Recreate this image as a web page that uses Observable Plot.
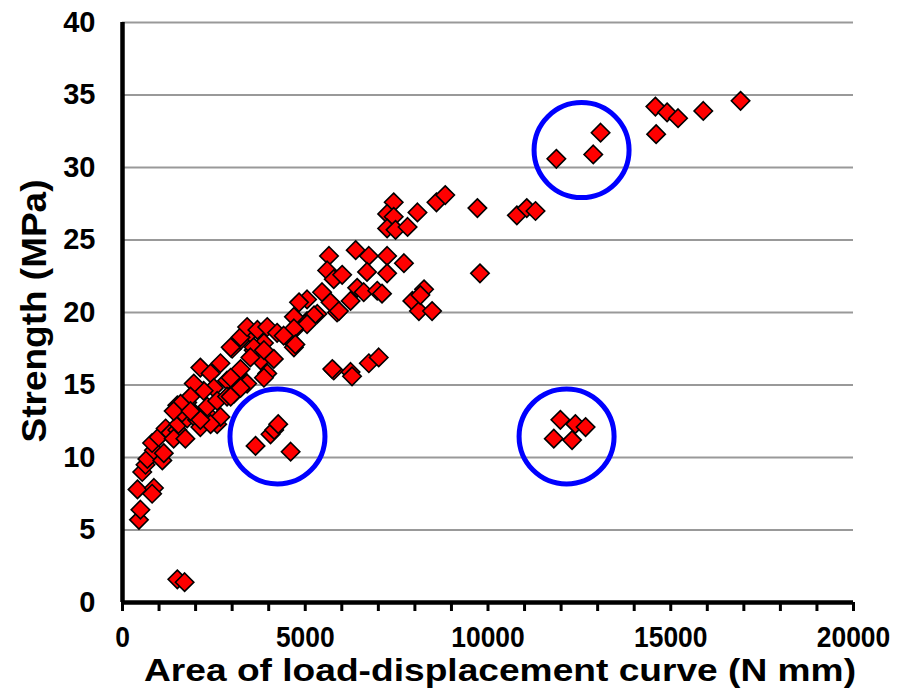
<!DOCTYPE html>
<html>
<head>
<meta charset="utf-8">
<script src="https://cdn.jsdelivr.net/npm/d3@7"></script>
<script src="https://cdn.jsdelivr.net/npm/@observablehq/plot@0.6"></script>
<style>
  html, body { margin: 0; padding: 0; background: #fff; }
  #chart svg { display: block; }
</style>
</head>
<body>
<div id="chart"></div>
<script>
// Area of load-displacement curve (N mm)
const area = [
  1500,1700,
  450,490,410,860,810,540,630,680,860,810,1090,1130,990,1180,1310,1500,1400,1720,1530,1770,1630,1500,2040,1910,2320,2590,2130,1770,
  2130,2410,2680,3000,3230,3500,3140,3410,2860,2500,2220,1950,1860,1590,1400,2320,2590,2860,3050,2680,2410,2130,1860,3780,3590,3870,3960,
  2960,3230,3410,3690,3960,4230,4510,4780,5050,5330,5870,3590,3870,4140,3500,3230,2960,3870,4690,5780,2960,3230,
  5650,6380,6740,7240,7700,5600,5780,6010,6690,7240,6420,6240,6600,6970,7100,5460,5690,5920,5050,4830,4690,5240,5050,4690,4410,4730,
  7930,8110,8250,8150,8470,5740,6240,6280,6740,7010,
  7420,7240,7420,7240,7470,7800,8070,8590,8830,9710,9780,10790,11060,11300,
  11870,12880,13080,
  14580,14900,15200,14600,15890,16910,
  3640,4050,4150,4260,4600,
  11980,12390,12670,11800,12300
];
// Strength (MPa)
const strength = [
  1.6,1.4,
  5.7,6.4,7.8,7.9,7.5,9.0,9.5,9.9,10.5,11.0,9.8,10.3,11.4,12.0,11.7,11.9,11.3,11.3,12.3,12.7,13.1,13.6,12.6,13.2,13.0,12.3,12.1,13.8,
  16.2,15.8,16.5,17.5,18.1,18.6,15.8,15.1,15.3,14.8,14.6,15.1,14.2,13.7,13.2,13.5,13.9,14.2,14.4,12.8,12.3,12.6,13.2,16.7,17.4,17.9,15.8,
  17.6,18.3,19.0,18.8,19.0,18.6,18.3,19.0,19.4,19.9,20.0,17.6,17.4,16.8,16.9,16.1,15.5,15.5,17.6,16.0,14.2,14.8,
  23.9,24.3,23.9,23.9,23.4,22.9,22.3,22.6,22.8,22.7,21.7,20.8,21.4,21.5,21.3,21.4,20.7,20.1,20.9,20.7,19.7,19.8,19.2,18.9,18.4,17.8,
  20.8,20.1,21.6,21.2,20.1,16.1,15.9,15.6,16.5,16.9,
  27.6,26.8,26.6,25.8,25.7,25.9,26.9,27.6,28.1,27.2,22.7,26.7,27.2,27.0,
  30.6,30.9,32.4,
  34.2,33.8,33.4,32.3,33.9,34.6,
  10.8,11.6,11.9,12.3,10.4,
  12.6,12.3,12.1,11.3,11.2
];
// highlighted groups (circle centres)
const circleX = [4240, 12150, 12560];
const circleY = [11.45, 11.45, 31.2];

const xTicks = [0, 5000, 10000, 15000, 20000];
const xMinorTicks = d3.range(0, 20001, 1000);
const yTicks = [0, 5, 10, 15, 20, 25, 30, 35, 40];

const points = area.map((a, i) => ({a, s: strength[i]}));
const circles = circleX.map((x, i) => ({x, y: circleY[i]}));

const plot = Plot.plot({
  width: 903,
  height: 690,
  marginTop: 22,
  marginBottom: 88,
  marginLeft: 122,
  marginRight: 50,
  style: {fontFamily: "'Liberation Sans', Arial, sans-serif", fontWeight: "bold", color: "#000", background: "#fff"},
  x: {domain: [0, 20000]},
  y: {domain: [0, 40]},
  marks: [
    Plot.ruleY(yTicks.filter(d => d > 0), {stroke: "#999", strokeWidth: 2}),
    Plot.axisY({ticks: yTicks, tickSize: 0, tickPadding: 27, fontSize: 29, fontWeight: "bold", label: "Strength (MPa)", labelAnchor: "center", labelArrow: "none", labelOffset: 110}),
    Plot.axisX({ticks: xMinorTicks, tickSize: 9, strokeWidth: 3, tickFormat: () => "", label: null}),
    Plot.axisX({ticks: xTicks, tickSize: 0, tickPadding: 23, fontSize: 30, fontWeight: "bold", tickFormat: d => String(d), label: "Area of load-displacement curve (N mm)", labelAnchor: "center", labelArrow: "none", labelOffset: 70}),
    Plot.ruleY([0], {stroke: "#000", strokeWidth: 4.5}),
    Plot.ruleX([0], {stroke: "#000", strokeWidth: 4.5, y1: 0, y2: 40}),
    Plot.dot(points, {x: "a", y: "s", symbol: "diamond2", r: 8.3, fill: "#ff0000", stroke: "#000", strokeWidth: 1.6}),
    Plot.dot(circles, {x: "x", y: "y", r: 47.5, fill: "none", stroke: "#0000ff", strokeWidth: 5})
  ]
});

document.getElementById("chart").appendChild(plot);

// condensed x tick labels (tall, narrow digits as in the reference)
d3.select(plot).selectAll("g[aria-label='x-axis tick label'] text").each(function() {
  const w = this.getComputedTextLength();
  d3.select(this).attr("textLength", w * 0.88).attr("lengthAdjust", "spacingAndGlyphs");
});

// axis titles
d3.select(plot).selectAll("g[aria-label='x-axis label'] text")
  .attr("transform", "translate(500,670)")
  .attr("x", null).attr("y", null).attr("dy", null)
  .attr("text-anchor", "middle")
  .attr("dominant-baseline", "central")
  .style("font-size", "32px").style("font-weight", "bold")
  .attr("textLength", 712).attr("lengthAdjust", "spacingAndGlyphs");
d3.select(plot).selectAll("g[aria-label='x-axis label']").attr("transform", null);

d3.select(plot).selectAll("g[aria-label='y-axis label'] text")
  .attr("transform", "translate(33,311) rotate(-90)")
  .attr("x", null).attr("y", null).attr("dy", null)
  .attr("text-anchor", "middle")
  .attr("dominant-baseline", "central")
  .style("font-size", "35px").style("font-weight", "bold")
  .attr("textLength", 263).attr("lengthAdjust", "spacingAndGlyphs");
d3.select(plot).selectAll("g[aria-label='y-axis label']").attr("transform", null);
</script>
</body>
</html>
